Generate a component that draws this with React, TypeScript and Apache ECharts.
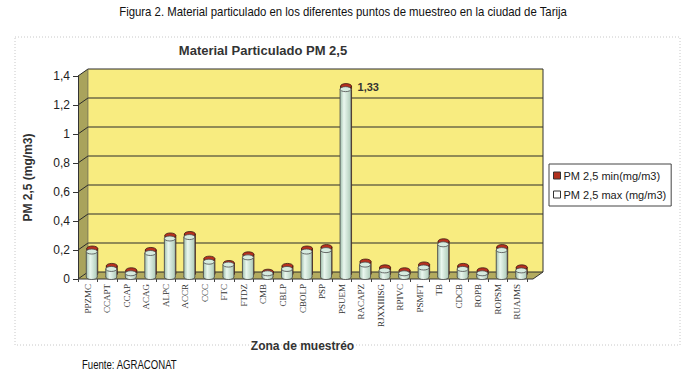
import React, { useEffect, useRef } from "react";
import * as echarts from "echarts";

const categories = [
  "PPZMC", "CCAPT", "CCAP", "ACAG", "ALPC", "ACCR", "CCC", "FTC", "FTDZ", "CMB",
  "CBLP", "CBOLP", "PSP", "PSUEM", "RACAPZ", "RJXXIIISG", "RPIVC", "PSMFT", "TB",
  "CDCB", "ROPB", "ROPSM", "RUAJMS",
];
const maxValues = [0.21, 0.09, 0.06, 0.2, 0.3, 0.31, 0.14, 0.12, 0.17, 0.06, 0.09, 0.21, 0.22, 1.33, 0.12, 0.08, 0.06, 0.1, 0.26, 0.09, 0.06, 0.22, 0.08];
const minValues = [0.2, 0.08, 0.05, 0.19, 0.29, 0.3, 0.13, 0.1, 0.16, 0.04, 0.08, 0.2, 0.21, 1.32, 0.11, 0.07, 0.05, 0.09, 0.25, 0.08, 0.05, 0.21, 0.07];
const yTicks = [0, 0.2, 0.4, 0.6, 0.8, 1, 1.2, 1.4];

const fmt = (v: number) => String(+Number(v).toFixed(2)).replace(".", ",");

const DX = 10;
const DY = -7;

function cylinder(cx: number, by: number, ty: number, body: any, topFill: string, stroke: string) {
  const w = 11;
  const r = w / 2;
  const ry = 2.5;
  return [
    { type: "ellipse", shape: { cx, cy: by, rx: r, ry }, style: { fill: body, stroke, lineWidth: 0.8 } },
    { type: "rect", shape: { x: cx - r, y: ty, width: w, height: Math.max(0, by - ty) }, style: { fill: body } },
    { type: "line", shape: { x1: cx - r, y1: ty, x2: cx - r, y2: by }, style: { stroke, lineWidth: 0.8 } },
    { type: "line", shape: { x1: cx + r, y1: ty, x2: cx + r, y2: by }, style: { stroke, lineWidth: 0.8 } },
    { type: "ellipse", shape: { cx, cy: ty, rx: r, ry }, style: { fill: topFill, stroke, lineWidth: 0.8 } },
  ];
}

export default function App() {
  const ref = useRef<HTMLDivElement>(null);
  useEffect(() => {
    if (!ref.current) return;
    const chart = echarts.init(ref.current, null, { renderer: "svg" });
    const peakIndex = maxValues.indexOf(Math.max(...maxValues));
    const greenBody = new echarts.graphic.LinearGradient(0, 0, 1, 0, [
      { offset: 0, color: "#9fbfac" },
      { offset: 0.35, color: "#eaf7ef" },
      { offset: 1, color: "#aecbb9" },
    ]);
    const redBody = new echarts.graphic.LinearGradient(0, 0, 1, 0, [
      { offset: 0, color: "#6e1810" },
      { offset: 0.4, color: "#c8402c" },
      { offset: 1, color: "#84200f" },
    ]);

    const option: any = {
      animation: false,
      backgroundColor: "#ffffff",
      grid: { left: 78, top: 76, width: 449, height: 203 },
      legend: {
        orient: "vertical",
        left: 549,
        top: 164,
        itemWidth: 7,
        itemHeight: 7,
        itemGap: 8,
        icon: "rect",
        borderColor: "#444",
        borderWidth: 1,
        borderRadius: 0,
        padding: [6, 5, 6, 4],
        backgroundColor: "#ffffff",
        textStyle: { fontFamily: "'Liberation Sans', Arial, sans-serif", fontSize: 11, color: "#222", padding: [0, 0, 0, -2] },
        itemStyle: { borderColor: "#333", borderWidth: 1 },
        data: ["PM 2,5 min(mg/m3)", "PM 2,5 max (mg/m3)"],
      },
      xAxis: {
        type: "category",
        data: categories,
        boundaryGap: true,
        axisLine: { show: false },
        axisTick: { show: true, length: 3, lineStyle: { color: "#444" } },
        axisLabel: {
          rotate: 90,
          interval: 0,
          margin: 5,
          fontFamily: "'Liberation Serif', 'Times New Roman', serif",
          fontSize: 9,
          color: "#333",
        },
        name: "Zona de muestréo",
        nameLocation: "middle",
        nameGap: 61,
        nameTextStyle: { fontFamily: "'Liberation Sans', Arial, sans-serif", fontWeight: "bold", fontSize: 12, color: "#333" },
      },
      yAxis: {
        type: "value",
        min: 0,
        max: 1.4,
        interval: 0.2,
        axisLine: { show: true, lineStyle: { color: "#333", width: 1 } },
        axisTick: { show: true, length: 5, lineStyle: { color: "#333" } },
        splitLine: { show: false },
        axisLabel: {
          formatter: (v: number) => fmt(v),
          fontFamily: "'Liberation Sans', Arial, sans-serif",
          fontSize: 12,
          color: "#222",
          margin: 8,
        },
        name: "PM 2,5 (mg/m3)",
        nameLocation: "middle",
        nameGap: 44,
        nameTextStyle: { fontFamily: "'Liberation Sans', Arial, sans-serif", fontWeight: "bold", fontSize: 12, color: "#333" },
      },
      graphic: [
        {
          type: "rect",
          shape: { x: 15, y: 37, width: 665, height: 308 },
          style: { fill: "none", stroke: "#c8c8c8", lineWidth: 1, lineDash: [1, 2] },
          z: -10,
        },
        {
          type: "text",
          x: 343,
          y: 12,
          scaleX: 0.91,
          style: {
            text: "Figura 2. Material particulado en los diferentes puntos de muestreo en la ciudad de Tarija",
            font: "12.5px 'Liberation Sans', Arial, sans-serif",
            fill: "#111",
            textAlign: "center",
            textVerticalAlign: "middle",
          },
        },
        {
          type: "text",
          x: 263,
          y: 50,
          style: {
            text: "Material Particulado PM 2,5",
            font: "bold 13px 'Liberation Sans', Arial, sans-serif",
            fill: "#333",
            textAlign: "center",
            textVerticalAlign: "middle",
          },
        },
        {
          type: "text",
          x: 82,
          y: 365,
          scaleX: 0.8,
          style: {
            text: "Fuente: AGRACONAT",
            font: "12px 'Liberation Sans', Arial, sans-serif",
            fill: "#111",
            textAlign: "left",
            textVerticalAlign: "middle",
          },
        },
      ],
      series: [
        {
          type: "custom",
          name: "frame",
          silent: true,
          z: 0,
          data: [[0, 0]],
          renderItem: (params: any, api: any) => {
            const cs = params.coordSys;
            const X0 = cs.x;
            const X1 = cs.x + cs.width + 6;
            const Y0 = api.coord([0, 0])[1];
            const YT = api.coord([0, yTicks[yTicks.length - 1]])[1];
            const children: any[] = [
              {
                type: "rect",
                shape: { x: X0 + DX, y: YT + DY, width: X1 - X0, height: Y0 - YT },
                style: { fill: "#f8ec80" },
              },
              {
                type: "polygon",
                shape: { points: [[X0, YT], [X0 + DX, YT + DY], [X0 + DX, Y0 + DY], [X0, Y0]] },
                style: { fill: "#a9a35c" },
              },
              {
                type: "polygon",
                shape: { points: [[X0, Y0], [X1, Y0], [X1 + DX, Y0 + DY], [X0 + DX, Y0 + DY]] },
                style: { fill: "#b3ab5f" },
              },
            ];
            yTicks.forEach((t) => {
              const y = api.coord([0, t])[1];
              children.push({
                type: "polyline",
                shape: { points: [[X0, y], [X0 + DX, y + DY], [X1 + DX, y + DY]] },
                style: { stroke: "#2a2a2a", lineWidth: 1, fill: "none" },
              });
            });
            children.push(
              { type: "line", shape: { x1: X0, y1: Y0, x2: X1, y2: Y0 }, style: { stroke: "#333", lineWidth: 1 } },
              { type: "line", shape: { x1: X1, y1: Y0, x2: X1 + DX, y2: Y0 + DY }, style: { stroke: "#333", lineWidth: 1 } },
              { type: "line", shape: { x1: X1 + DX, y1: YT + DY, x2: X1 + DX, y2: Y0 + DY }, style: { stroke: "#333", lineWidth: 1 } },
              { type: "line", shape: { x1: X0 + DX, y1: YT + DY, x2: X0 + DX, y2: Y0 + DY }, style: { stroke: "#555", lineWidth: 0.6 } }
            );
            return { type: "group", children };
          },
        },
        {
          type: "custom",
          name: "PM 2,5 min(mg/m3)",
          z: 2,
          itemStyle: { color: "#b0301e", borderColor: "#333" },
          data: minValues.map((v, i) => [i, v]),
          renderItem: (params: any, api: any) => {
            const i = api.value(0);
            const v = api.value(1);
            const base = api.coord([i, 0]);
            const top = api.coord([i, v]);
            const cx = base[0] + 4.5;
            const by = base[1] - 5;
            const ty = top[1] - 1.5;
            return { type: "group", children: cylinder(cx, by, ty, redBody, "#b8301e", "#3a1a14") };
          },
        },
        {
          type: "custom",
          name: "PM 2,5 max (mg/m3)",
          z: 3,
          itemStyle: { color: "#ffffff", borderColor: "#333" },
          data: maxValues.map((v, i) => [i, v]),
          renderItem: (params: any, api: any) => {
            const i = api.value(0);
            const v = api.value(1);
            const base = api.coord([i, 0]);
            const top = api.coord([i, v]);
            const cx = base[0] + 4;
            const by = base[1] - 2;
            const ty = top[1] + 3;
            const children: any[] = cylinder(cx, by, ty, greenBody, "#d6ebdf", "#4a4a4a");
            if (params.dataIndex === peakIndex) {
              children.push({
                type: "text",
                x: cx + 12,
                y: ty - 2,
                style: {
                  text: fmt(v),
                  font: "bold 11px 'Liberation Sans', Arial, sans-serif",
                  fill: "#333",
                  textAlign: "left",
                  textVerticalAlign: "middle",
                },
              });
            }
            return { type: "group", children };
          },
        },
      ],
    };
    chart.setOption(option);
    return () => chart.dispose();
  }, []);
  return (
    <div
      ref={ref}
      style={{ position: "absolute", left: 0, top: 0, width: 686, height: 373, background: "#fff" }}
    />
  );
}
